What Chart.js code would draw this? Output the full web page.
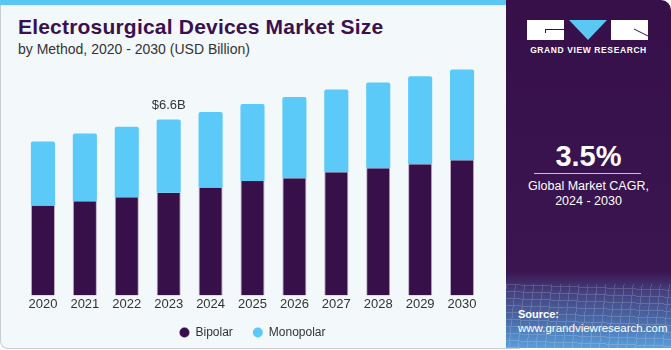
<!DOCTYPE html>
<html>
<head>
<meta charset="utf-8">
<script src="https://cdn.jsdelivr.net/npm/chart.js@4.4.1/dist/chart.umd.min.js"></script>
<style>
  html, body { margin: 0; padding: 0; }
  body { width: 671px; height: 350px; position: relative; overflow: hidden; background: #ffffff; font-family: 'Liberation Sans', Arial, sans-serif; }
  #leftPanel { position: absolute; left: 0; top: 0; width: 520px; height: 349px; background: #f3f8fb; border: 1px solid #c9cdd1; border-top: none; border-radius: 0 0 0 8px; box-sizing: border-box; }
  #topStrip { position: absolute; left: 0; top: 0; width: 520px; height: 5px; background: #5bc8f4; }
  #title { position: absolute; left: 18px; top: 15px; font-size: 21px; font-weight: bold; color: #3a1150; white-space: nowrap; letter-spacing: 0.2px; }
  #subtitle { position: absolute; left: 18px; top: 41px; font-size: 14px; color: #333; white-space: nowrap; }
  #chartBox { position: absolute; left: 0; top: 55px; width: 505px; height: 301px; }
  #rightPanel { position: absolute; left: 506px; top: 0; width: 165px; height: 348px; border-radius: 0 10px 0 0;
    background: linear-gradient(to bottom, #37104a 0%, #3a1550 78%, #45417f 84%, #4a6aa8 92%, #5a9fdb 100%); overflow: hidden; }
  #grid { position: absolute; left: 0; top: 284px; width: 165px; height: 64px; opacity: 0.16;
    background-image: repeating-linear-gradient(96deg, #ffffff 0 1px, transparent 1px 9px), repeating-linear-gradient(2deg, #ffffff 0 1px, transparent 1px 7px); }
  .box { position: absolute; background: #ffffff; }
  .mark { position: absolute; background: #37104a; }
  .rp { position: absolute; color: #fff; white-space: nowrap; }
  #gvr { left: 0; width: 165px; top: 45px; text-align: center; font-size: 8.5px; font-weight: bold; letter-spacing: 0.6px; }
  #cagr { left: 0; width: 165px; top: 140px; text-align: center; font-size: 29px; font-weight: bold; }
  #cagrLine { position: absolute; left: 28px; top: 173px; width: 107px; height: 1px; background: #c9bcd3; }
  #cagrText { left: 0; width: 165px; top: 179px; text-align: center; font-size: 12.5px; line-height: 15px; }
  #src1 { left: 12px; top: 308px; font-size: 11px; font-weight: bold; }
  #src2 { left: 12px; top: 322px; font-size: 11.5px; }
</style>
</head>
<body>
<div id="leftPanel"></div>
<div id="topStrip"></div>
<div id="title">Electrosurgical Devices Market Size</div>
<div id="subtitle">by Method, 2020 - 2030 (USD Billion)</div>
<div id="chartBox"><canvas id="marketChart"></canvas></div>

<div id="rightPanel">
  <div id="grid"></div>
  <div class="box" style="left:21px;top:20px;width:37px;height:20px"></div>
  <div class="mark" style="left:39px;top:29px;width:19px;height:1px"></div>
  <div class="mark" style="left:39px;top:29px;width:1px;height:4px"></div>
  <svg style="position:absolute;left:63px;top:20px" width="38" height="20" viewBox="0 0 38 20">
    <polygon points="0,0 38,0 19,20" fill="#5bc8f4"/>
  </svg>
  <div class="box" style="left:105px;top:20px;width:37px;height:20px"></div>
  <svg style="position:absolute;left:105px;top:20px" width="37" height="20" viewBox="0 0 37 20">
    <line x1="23" y1="9" x2="37" y2="16" stroke="#37104a" stroke-width="1"/>
  </svg>
  <div class="rp" id="gvr">GRAND VIEW RESEARCH</div>
  <div class="rp" id="cagr">3.5%</div>
  <div id="cagrLine"></div>
  <div class="rp" id="cagrText">Global Market CAGR,<br>2024 - 2030</div>
  <div class="rp" id="src1">Source:</div>
  <div class="rp" id="src2">www.grandviewresearch.com</div>
</div>

<script>
// Chart data (USD Billion)
const years = ['2020', '2021', '2022', '2023', '2024', '2025', '2026', '2027', '2028', '2029', '2030'];
const bipolar = [3.37, 3.53, 3.68, 3.85, 4.05, 4.29, 4.39, 4.62, 4.77, 4.92, 5.07];
const monopolar = [2.40, 2.54, 2.65, 2.75, 2.83, 2.89, 3.05, 3.10, 3.22, 3.30, 3.40];
const labelYear = '2023';
const labelText = '$6.6B';

const textColor = '#333333';
const fontFamily = "'Liberation Sans', Arial, sans-serif";

// Draws the total label above the highlighted year
const totalLabel = {
    id: 'totalLabel',
    afterDatasetsDraw(chart) {
        const idx = years.indexOf(labelYear);
        const total = bipolar[idx] + monopolar[idx];
        const x = chart.scales.x.getPixelForValue(idx);
        const y = chart.scales.y.getPixelForValue(total);
        const ctx = chart.ctx;
        ctx.save();
        ctx.font = '13px ' + fontFamily;
        ctx.fillStyle = textColor;
        ctx.textAlign = 'center';
        ctx.textBaseline = 'alphabetic';
        ctx.fillText(labelText, x, y - 10);
        ctx.restore();
    }
};

// Pull the legend a little closer to the year labels (keeps the wide item gap)
const legendLift = {
    id: 'legendLift',
    afterLayout(chart) {
        if (!chart.legend) return;
        chart.legend.top -= 7.5;
        chart.legend.bottom -= 7.5;
    }
};

const ctx = document.getElementById('marketChart').getContext('2d');
new Chart(ctx, {
    type: 'bar',
    data: {
        labels: years,
        datasets: [{
            label: 'Bipolar',
            data: bipolar,
            backgroundColor: '#37104a',
            borderColor: 'rgba(150,120,170,0.6)',
            borderWidth: { left: 1, right: 1, top: 0, bottom: 0 },
            borderSkipped: false,
            barPercentage: 0.575,
            categoryPercentage: 1.0
        }, {
            label: 'Monopolar',
            data: monopolar,
            backgroundColor: '#5ccaf8',
            borderRadius: { topLeft: 2, topRight: 2 },
            borderSkipped: 'bottom',
            barPercentage: 0.575,
            categoryPercentage: 1.0
        }]
    },
    options: {
        responsive: true,
        maintainAspectRatio: false,
        animation: false,
        layout: { padding: { left: 22, right: 22, top: 5, bottom: 0 } },
        plugins: {
            legend: {
                position: 'bottom',
                labels: {
                    usePointStyle: true,
                    pointStyle: 'circle',
                    boxWidth: 10,
                    boxHeight: 7,
                    padding: 20,
                    color: textColor,
                    font: { family: fontFamily, size: 12 }
                }
            },
            tooltip: { enabled: false }
        },
        scales: {
            x: {
                stacked: true,
                grid: { display: false, drawTicks: false },
                border: { display: false },
                ticks: {
                    color: textColor,
                    padding: 1.5,
                    font: { family: fontFamily, size: 13 }
                }
            },
            y: {
                stacked: true,
                display: false,
                min: 0,
                max: 8.83
            }
        }
    },
    plugins: [totalLabel, legendLift]
});
</script>
</body>
</html>
